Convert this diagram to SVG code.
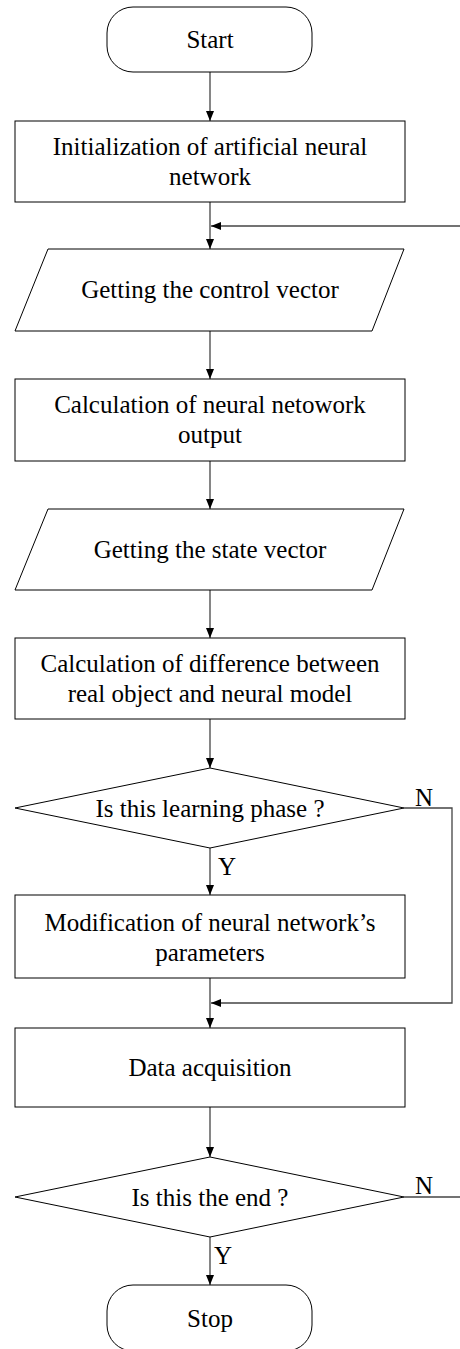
<svg xmlns="http://www.w3.org/2000/svg" width="460" height="1349" viewBox="0 0 460 1349">
<style>
.s{fill:#fff;stroke:#000;stroke-width:1}
.t{font-family:"Liberation Serif","Times New Roman",serif;font-size:25px;fill:#000;text-anchor:middle}
.l{font-family:"Liberation Serif","Times New Roman",serif;font-size:25px;fill:#000}
.c{fill:none;stroke:#444;stroke-width:1.3}
</style>
<defs>
<marker id="ah" viewBox="0 0 10 8" refX="10" refY="4" markerWidth="10" markerHeight="8" markerUnits="userSpaceOnUse" orient="auto">
<path d="M0,0 L10,4 L0,8 Z" fill="#000"/>
</marker>
</defs>
<rect width="460" height="1349" fill="#fff"/>
<g id="connectors">
<line class="c" x1="210" y1="72" x2="210" y2="121" marker-end="url(#ah)"/>
<line class="c" x1="210" y1="202" x2="210" y2="249" marker-end="url(#ah)"/>
<line class="c" x1="460" y1="226" x2="211" y2="226" marker-end="url(#ah)"/>
<line class="c" x1="210" y1="331" x2="210" y2="379" marker-end="url(#ah)"/>
<line class="c" x1="210" y1="461" x2="210" y2="509" marker-end="url(#ah)"/>
<line class="c" x1="210" y1="590" x2="210" y2="638" marker-end="url(#ah)"/>
<line class="c" x1="210" y1="719" x2="210" y2="768" marker-end="url(#ah)"/>
<line class="c" x1="210" y1="848" x2="210" y2="895" marker-end="url(#ah)"/>
<polyline class="c" points="404,808 452,808 452,1003 211,1003" marker-end="url(#ah)"/>
<line class="c" x1="210" y1="978" x2="210" y2="1028" marker-end="url(#ah)"/>
<line class="c" x1="210" y1="1107" x2="210" y2="1157" marker-end="url(#ah)"/>
<line class="c" x1="404" y1="1197" x2="460" y2="1197"/>
<line class="c" x1="210" y1="1237" x2="210" y2="1285" marker-end="url(#ah)"/>
<text class="l" x="415" y="806">N</text>
<text class="l" x="218" y="875">Y</text>
<text class="l" x="415" y="1194">N</text>
<text class="l" x="214" y="1264">Y</text>
</g>
<g id="start">
<rect class="s" x="107" y="7" width="205" height="65" rx="26" ry="26"/>
<text class="t" x="210" y="48">Start</text>
</g>
<g id="init">
<rect class="s" x="15" y="121" width="390" height="81"/>
<text class="t" x="210" y="155">Initialization of artificial neural</text>
<text class="t" x="210" y="185">network</text>
</g>
<g id="control">
<polygon class="s" points="48,249 404,249 372,331 15,331"/>
<text class="t" x="210" y="298">Getting the control vector</text>
</g>
<g id="calcOut">
<rect class="s" x="15" y="379" width="390" height="82"/>
<text class="t" x="210" y="413">Calculation of neural netowork</text>
<text class="t" x="210" y="443">output</text>
</g>
<g id="state">
<polygon class="s" points="48,509 404,509 372,590 15,590"/>
<text class="t" x="210" y="558">Getting the state vector</text>
</g>
<g id="calcDiff">
<rect class="s" x="15" y="638" width="390" height="81"/>
<text class="t" x="210" y="672">Calculation of difference between</text>
<text class="t" x="210" y="702">real object and neural model</text>
</g>
<g id="learn">
<polygon class="s" points="210,768 404,808 210,848 15,808"/>
<text class="t" x="210" y="817">Is this learning phase ?</text>
</g>
<g id="modify">
<rect class="s" x="15" y="895" width="390" height="83"/>
<text class="t" x="210" y="931">Modification of neural network’s</text>
<text class="t" x="210" y="961">parameters</text>
</g>
<g id="data">
<rect class="s" x="15" y="1028" width="390" height="79"/>
<text class="t" x="210" y="1076">Data acquisition</text>
</g>
<g id="end">
<polygon class="s" points="210,1157 404,1197 210,1237 15,1197"/>
<text class="t" x="210" y="1206">Is this the end ?</text>
</g>
<g id="stop">
<rect class="s" x="107" y="1285" width="205" height="66" rx="26" ry="26"/>
<text class="t" x="210" y="1327">Stop</text>
</g>
</svg>
